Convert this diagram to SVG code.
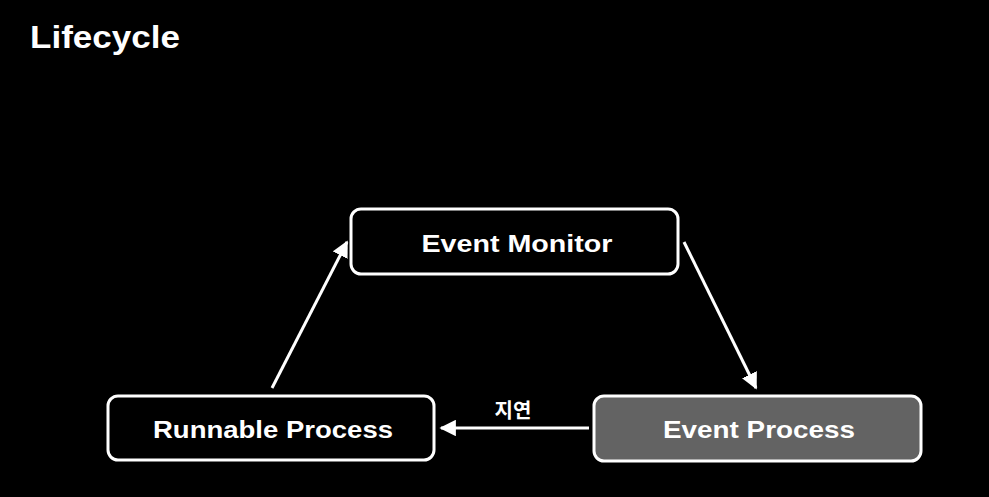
<svg xmlns="http://www.w3.org/2000/svg" width="989" height="497" viewBox="0 0 989 497">
<style>
.bg{fill:#000}
.box{stroke:#fff;stroke-width:3}
.t{font-family:"Liberation Sans","Noto Sans CJK KR",sans-serif;font-weight:bold;fill:#fff;text-anchor:middle}
.c{stroke:#fff;stroke-width:3;fill:none}
</style>
<defs>
<marker id="ah" viewBox="0 0 10 10" refX="9" refY="5" markerWidth="5.5" markerHeight="5.5" markerUnits="strokeWidth" orient="auto">
<path d="M0,0 L10,5 L0,10 Z" fill="#fff"/>
</marker>
</defs>
<rect class="bg" width="989" height="497"/>
<text x="30" y="48" font-family="Liberation Sans, sans-serif" font-weight="bold" font-size="32" fill="#fff" textLength="150" lengthAdjust="spacingAndGlyphs">Lifecycle</text>
<g id="event-monitor">
<rect class="box" x="351" y="209" width="327" height="65" rx="10" fill="#000"/>
<text class="t" x="517" y="252" font-size="24" textLength="191" lengthAdjust="spacingAndGlyphs">Event Monitor</text>
</g>
<g id="runnable-process">
<rect class="box" x="108" y="396" width="326" height="64" rx="10" fill="#000"/>
<text class="t" x="273" y="438" font-size="24" textLength="240" lengthAdjust="spacingAndGlyphs">Runnable Process</text>
</g>
<g id="event-process">
<rect class="box" x="594" y="396" width="327" height="65" rx="10" fill="#636363"/>
<text class="t" x="759" y="438" font-size="24" textLength="192" lengthAdjust="spacingAndGlyphs">Event Process</text>
</g>
<g id="connectors">
<line class="c" x1="684" y1="242" x2="756" y2="388" marker-end="url(#ah)"/>
<line class="c" x1="589" y1="428" x2="441" y2="428" marker-end="url(#ah)"/>
<line class="c" x1="272" y1="388" x2="347" y2="242" marker-end="url(#ah)"/>
<text class="t" x="513" y="418" font-size="20">지연</text>
</g>
</svg>
